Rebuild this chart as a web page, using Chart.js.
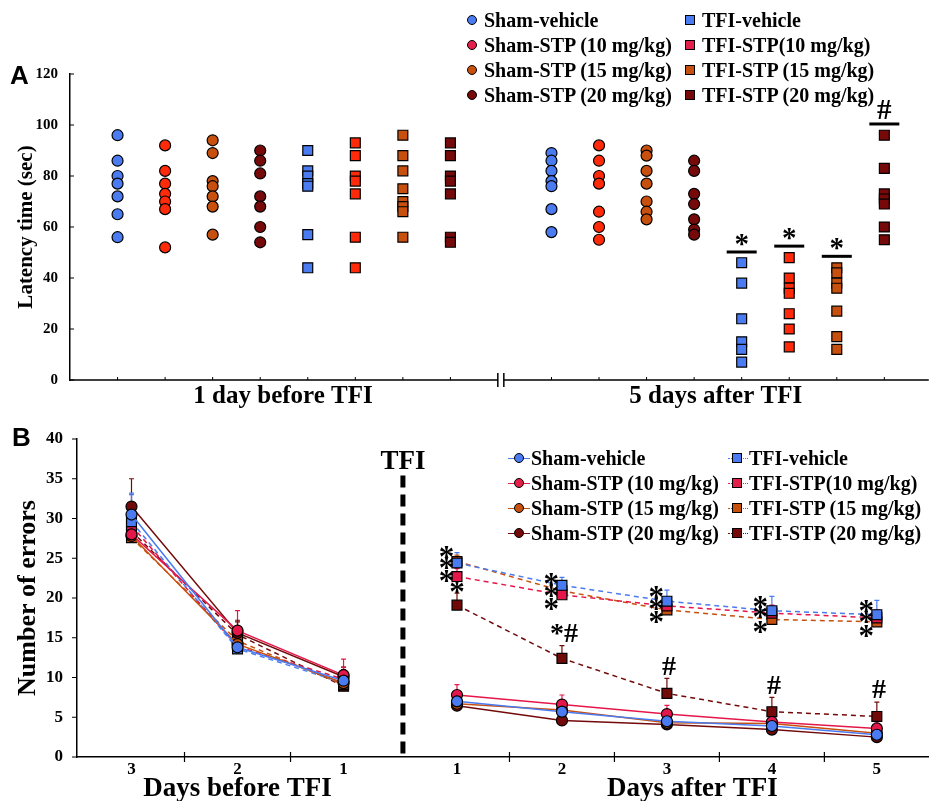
<!DOCTYPE html>
<html>
<head>
<meta charset="utf-8">
<script src="https://cdn.jsdelivr.net/npm/chart.js@4.4.1/dist/chart.umd.min.js"></script>
<style>
  body { margin: 0; background: #fff; }
  #page { position: relative; width: 937px; height: 801px; overflow: hidden; font-family: "Liberation Serif", "Times New Roman", serif; }
  #wrapA { position: absolute; left: 0; top: 0; width: 937px; height: 420px; }
  #wrapB { position: absolute; left: 0; top: 410px; width: 937px; height: 391px; }
  .panel { position: absolute; font-family: "Liberation Sans", Arial, sans-serif; font-weight: bold; font-size: 26px; line-height: 26px; }
  .lg { position: absolute; font-weight: bold; font-size: 20px; line-height: 22px; white-space: nowrap; }
  .mk { position: absolute; box-sizing: border-box; border: 1px solid #000; width: 10px; height: 10px; }
  .ln { position: absolute; height: 0; }
</style>
</head>
<body>
<div id="page">
  <div id="wrapA"><canvas id="chartA"></canvas></div>
  <div id="wrapB"><canvas id="chartB"></canvas></div>
  <div class="panel" style="left:10px;top:62px">A</div>
  <div class="panel" style="left:12px;top:424px">B</div>
  <div id="legendA"></div>
  <div id="legendB"></div>
</div>
<script>
// groups (same order in both panels)
const groups = ['Sham-vehicle', 'Sham-STP (10 mg/kg)', 'Sham-STP (15 mg/kg)', 'Sham-STP (20 mg/kg)',
                'TFI-vehicle', 'TFI-STP(10 mg/kg)', 'TFI-STP (15 mg/kg)', 'TFI-STP (20 mg/kg)'];
const isTFI = [false, false, false, false, true, true, true, true];
const legendColors = ['#4a7bf0', '#e2204a', '#c8500e', '#760a0a', '#4a7bf0', '#e2204a', '#c8500e', '#760a0a'];
const dotColorsA = ['#4a7bf0', '#ff2a0a', '#c8500e', '#760a0a', '#4a7bf0', '#ff2a0a', '#c8500e', '#760a0a'];
const lineColorsB = ['#4a7bf0', '#e5174a', '#c8500e', '#730a0a', '#4a7bf0', '#e5174a', '#c8500e', '#730a0a'];

// Panel A: latency time (sec), individual animals
const latencyBefore = [
  [96, 86, 80, 77, 72, 65, 56],
  [92, 82, 77, 73, 70, 67, 52],
  [94, 89, 78, 76, 72, 68, 57],
  [90, 86, 81, 72, 68, 60, 54],
  [90, 82, 80, 77, 76, 57, 44],
  [93, 88, 80, 78, 73, 56, 44],
  [96, 88, 82, 75, 70, 68, 66, 56],
  [93, 88, 80, 78, 73, 56, 54]
];
const latencyAfter = [
  [89, 86, 82, 78, 76, 67, 58],
  [92, 86, 80, 77, 66, 60, 55],
  [90, 88, 82, 77, 70, 66, 63],
  [86, 82, 73, 69, 63, 59, 57],
  [46, 38, 24, 15, 12, 7],
  [48, 40, 36, 34, 26, 20, 13],
  [44, 42, 38, 36, 27, 17, 12],
  [96, 83, 73, 71, 69, 60, 55]
];
const posBeforeA = [1, 2, 3, 4, 5, 6, 7, 8];
const posAfterA = [10.125, 11.125, 12.125, 13.125, 14.125, 15.125, 16.125, 17.125];
const sessionLabelsA = ['1 day before TFI', '5 days after TFI'];
const sessionPosA = [4.48, 13.58];
const yTicksA = [0, 20, 40, 60, 80, 100, 120];
// significance bars after TFI
const sigLevelA = [null, null, null, null, 50.2, 52.5, 48.5, 100.4];
const sigTextA = ['', '', '', '', '*', '*', '*', '#'];

// Panel B: number of errors (mean + SEM)
const dayPosBefore = [1, 2, 3];
const dayLabelsBefore = ['3', '2', '1'];
const dayPosAfter = [4.07, 5.06, 6.05, 7.04, 8.03];
const dayLabelsAfter = ['1', '2', '3', '4', '5'];
const errorsBefore = [
  [30.5, 13.8, 9.6],
  [28.0, 15.9, 10.3],
  [27.8, 14.2, 9.3],
  [31.5, 15.6, 10.1],
  [29.6, 13.6, 9.3],
  [29.1, 13.9, 9.8],
  [27.6, 14.6, 9.1],
  [28.4, 15.4, 8.9]
];
const errorsAfter = [
  [7.0, 5.7, 4.5, 3.9, 2.8],
  [7.8, 6.6, 5.4, 4.4, 3.6],
  [6.7, 5.9, 4.3, 4.2, 3.0],
  [6.45, 4.6, 4.1, 3.45, 2.5],
  [24.4, 21.6, 19.6, 18.4, 17.9],
  [22.7, 20.4, 19.0, 18.1, 17.5],
  [24.6, 20.9, 18.5, 17.3, 17.0],
  [19.1, 12.4, 8.0, 5.7, 5.1]
];
const semBefore = [
  [2.5, 1.5, 1.2],
  [3.0, 2.5, 2.0],
  [2.5, 1.5, 1.2],
  [3.5, 1.6, 1.2],
  [3.6, 1.5, 1.2],
  [2.5, 1.5, 1.5],
  [2.0, 1.5, 1.2],
  [3.0, 1.6, 2.1]
];
const semAfter = [
  [1.0, 0.8, 0.7, 0.6, 0.6],
  [1.3, 1.2, 1.1, 0.8, 0.8],
  [1.0, 0.9, 0.7, 0.7, 0.6],
  [0.9, 0.7, 0.6, 0.6, 0.5],
  [1.3, 1.0, 1.4, 1.8, 1.8],
  [1.0, 1.0, 1.0, 1.0, 1.0],
  [0.8, 0.8, 0.8, 0.8, 0.8],
  [1.5, 1.6, 1.9, 1.8, 1.8]
];
const tfiPos = 3.56;
// significance marks: [x, y, text]
const marksB = [
  [3.97, 25.7, '*'], [3.97, 24.3, '*'], [3.97, 22.6, '*'], [4.07, 21.3, '*'],
  [4.96, 22.3, '*'], [4.96, 20.75, '*'], [4.96, 19.1, '*'], [5.08, 15.6, '*#'],
  [5.95, 20.6, '*'], [5.95, 19.1, '*'], [5.95, 17.5, '*'], [6.07, 11.4, '#'],
  [6.93, 19.4, '*'], [6.93, 18.1, '*'], [6.93, 16.2, '*'], [7.06, 9.1, '#'],
  [7.93, 18.9, '*'], [7.93, 17.5, '*'], [7.93, 15.7, '*'], [8.05, 8.6, '#']
];

const serif = '"Liberation Serif", "Times New Roman", serif';

// ---------- legends (html) ----------
function buildLegend(id, rowsY, cols, withLine) {
  const box = document.getElementById(id);
  groups.forEach(function(name, i) {
    const col = cols[isTFI[i] ? 1 : 0];
    const y = rowsY[i % 4];
    if (withLine) {
      const ln = document.createElement('div');
      ln.className = 'ln';
      ln.style.left = col.lineFrom + 'px';
      ln.style.width = (col.lineTo - col.lineFrom) + 'px';
      ln.style.top = (y - 0.5) + 'px';
      ln.style.borderTop = '1px ' + (isTFI[i] ? 'dotted ' : 'solid ') + legendColors[i];
      box.appendChild(ln);
    }
    const mk = document.createElement('div');
    mk.className = 'mk';
    mk.style.left = (col.mark - 5) + 'px';
    mk.style.top = (y - 5) + 'px';
    mk.style.background = legendColors[i];
    if (!isTFI[i]) mk.style.borderRadius = '50%';
    box.appendChild(mk);
    const tx = document.createElement('div');
    tx.className = 'lg';
    tx.style.left = col.text + 'px';
    tx.style.top = (y - 11) + 'px';
    tx.textContent = name;
    box.appendChild(tx);
  });
}
buildLegend('legendA', [20, 45, 70, 95], [{mark: 472, text: 484}, {mark: 690, text: 702}], false);
buildLegend('legendB', [458, 483, 508, 533],
  [{mark: 519, text: 531, lineFrom: 508, lineTo: 530}, {mark: 737, text: 749, lineFrom: 728, lineTo: 748}], true);

// ---------- Panel A ----------
const datasetsA = groups.map(function(name, i) {
  const pts = [];
  latencyBefore[i].forEach(function(v) { pts.push({x: posBeforeA[i], y: v}); });
  latencyAfter[i].forEach(function(v) { pts.push({x: posAfterA[i], y: v}); });
  return {
    label: name,
    data: pts,
    pointStyle: isTFI[i] ? 'rect' : 'circle',
    pointRadius: isTFI[i] ? 7 : 5.5,
    pointBackgroundColor: dotColorsA[i],
    pointBorderColor: '#000',
    pointBorderWidth: 1.2,
    showLine: false
  };
});

const panelAPlugin = {
  id: 'panelA',
  afterDraw: function(chart) {
    const ctx = chart.ctx;
    const xs = chart.scales.x, ys = chart.scales.y;
    const area = chart.chartArea;
    const bot = area.bottom;
    ctx.save();
    ctx.strokeStyle = '#000';
    // x axis with break
    const brk = xs.getPixelForValue(9.06);
    ctx.lineWidth = 1.5;
    ctx.beginPath();
    ctx.moveTo(area.left, bot); ctx.lineTo(brk - 3, bot);
    ctx.moveTo(brk + 3, bot); ctx.lineTo(area.right, bot);
    ctx.stroke();
    ctx.beginPath();
    ctx.moveTo(brk - 3, bot - 7); ctx.lineTo(brk - 3, bot + 7);
    ctx.moveTo(brk + 3, bot - 7); ctx.lineTo(brk + 3, bot + 7);
    ctx.stroke();
    // tick marks (inside)
    ctx.lineWidth = 1;
    ctx.beginPath();
    posBeforeA.concat(posAfterA).forEach(function(p) {
      const x = xs.getPixelForValue(p);
      ctx.moveTo(x, bot); ctx.lineTo(x, bot - 3);
    });
    yTicksA.forEach(function(v) {
      const y = ys.getPixelForValue(v);
      ctx.moveTo(area.left, y); ctx.lineTo(area.left + 4, y);
    });
    ctx.stroke();
    // significance bars
    ctx.fillStyle = '#000';
    ctx.textAlign = 'center';
    ctx.textBaseline = 'alphabetic';
    ctx.font = 'bold 29px ' + serif;
    sigLevelA.forEach(function(v, i) {
      if (v === null) return;
      const x = xs.getPixelForValue(posAfterA[i]);
      const y = ys.getPixelForValue(v);
      ctx.lineWidth = 3;
      ctx.beginPath();
      ctx.moveTo(x - 15, y); ctx.lineTo(x + 15, y);
      ctx.stroke();
      if (sigTextA[i] === '#') ctx.fillText('#', x, y - 5);
      else ctx.fillText(sigTextA[i], x, y + 1);
    });
    ctx.restore();
  }
};

new Chart(document.getElementById('chartA'), {
  type: 'scatter',
  data: { datasets: datasetsA },
  options: {
    responsive: true,
    maintainAspectRatio: false,
    animation: false,
    layout: { padding: { top: 74, right: 0, left: 0, bottom: 0 } },
    plugins: { legend: { display: false }, tooltip: { enabled: false } },
    scales: {
      x: {
        type: 'linear', min: 0, max: 18.06,
        grid: { display: false, drawTicks: false },
        border: { display: false },
        afterBuildTicks: function(axis) { axis.ticks = sessionPosA.map(function(v) { return {value: v}; }); },
        afterFit: function(axis) { axis.height = 40; },
        ticks: {
          autoSkip: false, maxRotation: 0, minRotation: 0, padding: 2,
          color: '#000', font: { family: serif, size: 25, weight: 'bold' },
          callback: function(v, i) { return sessionLabelsA[i]; }
        }
      },
      y: {
        min: 0, max: 120,
        grid: { display: false, drawTicks: false },
        border: { display: true, color: '#000', width: 1.5 },
        afterBuildTicks: function(axis) { axis.ticks = yTicksA.map(function(v) { return {value: v}; }); },
        afterFit: function(axis) { axis.width = 70; },
        ticks: { padding: 12, color: '#000', font: { family: serif, size: 15, weight: 'bold' } },
        title: {
          display: true, text: 'Latency time (sec)', color: '#000',
          font: { family: serif, size: 21, weight: 'bold' }, padding: { top: 14, bottom: 0 }
        }
      }
    }
  },
  plugins: [panelAPlugin]
});

// ---------- Panel B ----------
const datasetsB = groups.map(function(name, i) {
  const pts = [];
  errorsBefore[i].forEach(function(v, j) { pts.push({x: dayPosBefore[j], y: v}); });
  pts.push({x: tfiPos, y: null});
  errorsAfter[i].forEach(function(v, j) { pts.push({x: dayPosAfter[j], y: v}); });
  const sem = semBefore[i].concat([null], semAfter[i]);
  return {
    label: name,
    data: pts,
    sem: sem,
    borderColor: lineColorsB[i],
    borderWidth: 1.5,
    borderDash: isTFI[i] ? [5, 4] : [],
    spanGaps: false,
    pointStyle: isTFI[i] ? 'rect' : 'circle',
    pointRadius: isTFI[i] ? 7 : 5.5,
    pointBackgroundColor: lineColorsB[i],
    pointBorderColor: '#000',
    pointBorderWidth: 1.2,
    fill: false
  };
});

const panelBPlugin = {
  id: 'panelB',
  beforeDatasetsDraw: function(chart) {
    const ctx = chart.ctx;
    const ys = chart.scales.y;
    ctx.save();
    ctx.lineWidth = 1.2;
    chart.data.datasets.forEach(function(ds, i) {
      const meta = chart.getDatasetMeta(i);
      ds.data.forEach(function(p, j) {
        if (p.y === null || ds.sem[j] === null) return;
        const el = meta.data[j];
        const top = ys.getPixelForValue(p.y + ds.sem[j]);
        ctx.strokeStyle = ds.borderColor;
        ctx.beginPath();
        ctx.moveTo(el.x, el.y); ctx.lineTo(el.x, top);
        ctx.moveTo(el.x - 2.5, top); ctx.lineTo(el.x + 2.5, top);
        ctx.stroke();
      });
    });
    ctx.restore();
  },
  afterDraw: function(chart) {
    const ctx = chart.ctx;
    const xs = chart.scales.x, ys = chart.scales.y;
    const area = chart.chartArea;
    ctx.save();
    ctx.strokeStyle = '#000';
    // tick marks
    ctx.lineWidth = 1.2;
    ctx.beginPath();
    [1.5, 2.5, 4.565, 5.555, 6.545, 7.535].forEach(function(p) {
      const x = xs.getPixelForValue(p);
      ctx.moveTo(x, area.bottom - 5); ctx.lineTo(x, area.bottom + 5);
    });
    for (let v = 0; v <= 40; v += 5) {
      const y = ys.getPixelForValue(v);
      ctx.moveTo(area.left - 5, y); ctx.lineTo(area.left, y);
    }
    ctx.stroke();
    // TFI divider
    const tx = xs.getPixelForValue(tfiPos);
    ctx.lineWidth = 5;
    ctx.setLineDash([12, 7]);
    ctx.beginPath();
    ctx.moveTo(tx, ys.getPixelForValue(35.4)); ctx.lineTo(tx, area.bottom);
    ctx.stroke();
    ctx.setLineDash([]);
    ctx.fillStyle = '#000';
    ctx.textAlign = 'center';
    ctx.textBaseline = 'middle';
    ctx.font = 'bold 27px ' + serif;
    ctx.fillText('TFI', tx, ys.getPixelForValue(37.1));
    // significance marks
    ctx.textBaseline = 'alphabetic';
    marksB.forEach(function(m) {
      const star = m[2] === '*';
      ctx.font = 'bold ' + (star ? 31 : 28) + 'px ' + serif;
      ctx.fillText(m[2], xs.getPixelForValue(m[0]), ys.getPixelForValue(m[1]) + (star ? 14 : 9));
    });
    // axis titles
    ctx.textBaseline = 'middle';
    ctx.font = 'bold 27px ' + serif;
    ctx.fillText('Days before TFI', xs.getPixelForValue(2), area.bottom + 32);
    ctx.fillText('Days after TFI', xs.getPixelForValue(6.29), area.bottom + 32);
    ctx.restore();
  }
};

new Chart(document.getElementById('chartB'), {
  type: 'line',
  data: { datasets: datasetsB },
  options: {
    responsive: true,
    maintainAspectRatio: false,
    animation: false,
    layout: { padding: { top: 29, right: 0, left: 0, bottom: 0 } },
    plugins: { legend: { display: false }, tooltip: { enabled: false } },
    scales: {
      x: {
        type: 'linear', min: 0.486, max: 8.52,
        grid: { display: false, drawTicks: false },
        border: { display: true, color: '#000', width: 1.5 },
        afterBuildTicks: function(axis) {
          axis.ticks = dayPosBefore.concat(dayPosAfter).map(function(v) { return {value: v}; });
        },
        afterFit: function(axis) { axis.height = 44; },
        ticks: {
          autoSkip: false, maxRotation: 0, minRotation: 0, padding: 2,
          color: '#000', font: { family: serif, size: 17, weight: 'bold' },
          callback: function(v, i) { return dayLabelsBefore.concat(dayLabelsAfter)[i]; }
        }
      },
      y: {
        min: 0, max: 40,
        grid: { display: false, drawTicks: false },
        border: { display: true, color: '#000', width: 1.5 },
        afterBuildTicks: function(axis) {
          const t = [];
          for (let v = 0; v <= 40; v += 5) t.push({value: v});
          axis.ticks = t;
        },
        afterFit: function(axis) { axis.width = 77; },
        ticks: { padding: 14, color: '#000', font: { family: serif, size: 17, weight: 'bold' } },
        title: {
          display: true, text: 'Number of errors', color: '#000',
          font: { family: serif, size: 26, weight: 'bold' }, padding: { top: 13, bottom: 0 }
        }
      }
    }
  },
  plugins: [panelBPlugin]
});
</script>
</body>
</html>
